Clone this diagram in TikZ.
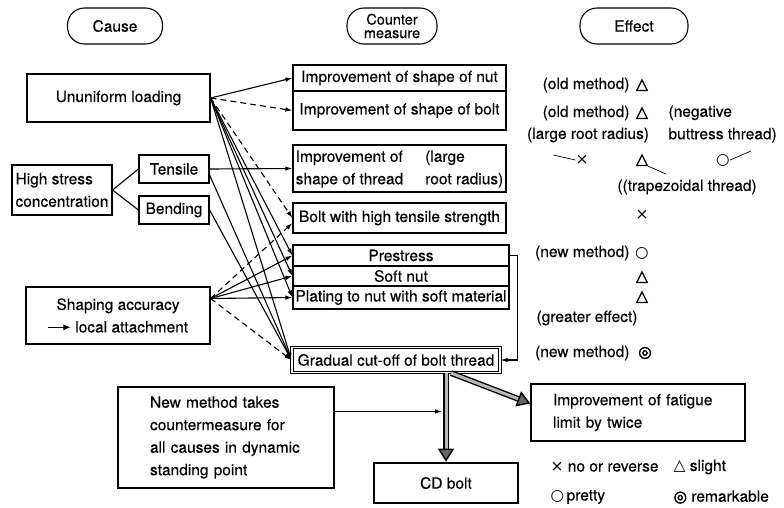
\documentclass[tikz,border=0pt]{standalone}
\usepackage{fontspec}
\setmainfont{TeX Gyre Heros}[FakeBold=0.3]
\newfontfamily\symf{DejaVu Sans}
\newfontfamily\symbf{DejaVu Sans}[FakeBold=2.5]
\usepackage{tikz}
\usetikzlibrary{arrows.meta}
\usetikzlibrary{calc}
\usetikzlibrary{positioning}

\newcommand\bodysize{\fontsize{15.5}{22.5}\selectfont}

\tikzset{
  head/.style={draw,line width=1.1pt,rounded corners=17pt,minimum height=36pt,align=center},
  causebox/.style={draw,line width=1.2pt,inner sep=2pt},
  cell/.style={draw,line width=1.2pt,minimum width=213pt,inner sep=1pt},
  conn/.style={line width=1.1pt,-{Latex[length=7pt,width=4.5pt]}},
  dconn/.style={conn,dash pattern=on 6pt off 4pt},
  bigarrow/.style={line width=1.4pt,double=gray!55,double distance=3pt,-{Triangle[length=13pt,width=16pt,fill=black!60]}},
  symb/.style={font=\bodysize\symf,inner sep=0pt},
  symbb/.style={font=\bodysize\symbf,inner sep=0pt},
  leader/.style={line width=0.7pt}
}

\begin{document}
\begin{tikzpicture}[x=1pt,y=-1pt,font=\bodysize]
\useasboundingbox (0,0) rectangle (784,507);

\node[head,minimum width=95pt] (cause) at (115,26) {Cause};
\node[head,minimum width=90pt,inner sep=1pt,font=\fontsize{14.5}{13.5}\selectfont] (counter) at (392,26) {Counter\\measure};
\node[head,minimum width=108pt] (effect) at (634,26) {Effect};

\node[causebox,minimum width=183pt,minimum height=48pt] (unif) at (118.5,98) {Ununiform loading};
\node[causebox,minimum width=100pt,minimum height=50pt,align=left] (stress) at (62,190) {High stress\\concentration};
\node[causebox,minimum width=70pt,minimum height=28pt] (tensile) at (174,169) {Tensile};
\node[causebox,minimum width=70pt,minimum height=28pt] (bending) at (174,210) {Bending};
\node[causebox,minimum width=184pt,minimum height=57pt,align=center] (shaping) at (118,315.5) {Shaping accuracy\\\tikz[baseline=0pt]\draw[line width=1.1pt,-{Latex[length=7pt,width=6pt]}] (0pt,0.33em) -- (22pt,0.33em);\ local attachment};

\node[cell,minimum height=26pt] (nut) at (399.5,78) {Improvement of shape of nut};
\node[cell,minimum height=39pt] (bolt) at (399.5,110.5) {Improvement of shape of bolt};
\node[cell,minimum height=47pt] (thread) at (399.5,168.5) {\begin{tabular}{@{}l@{\hspace{22pt}}l@{}}Improvement of&(large\\shape of thread&root radius)\end{tabular}};
\node[cell,minimum height=30pt] (tbolt) at (399.5,218) {Bolt with high tensile strength};
\node[cell,minimum width=216pt,minimum height=21pt] (prestress) at (401,255.5) {Prestress};
\node[cell,minimum width=216pt,minimum height=20pt] (softnut) at (401,276) {Soft nut};
\node[cell,minimum width=216pt,minimum height=23pt] (plating) at (401,297.5) {Plating to nut with soft material};
\node[causebox,double,double distance=1.5pt,line width=1.1pt,minimum width=208pt,minimum height=25pt] (gradual) at (396,360) {Gradual cut-off of bolt thread};

\node[causebox,minimum width=216pt,minimum height=101pt,text width=152pt,inner xsep=32pt,align=left] (newmethod) at (226,437.5) {New method takes\\countermeasure for\\all causes in dynamic\\standing point};
\node[causebox,line width=2.6pt,minimum width=144pt,minimum height=40pt] (cd) at (446,483) {CD bolt};
\node[causebox,line width=1.4pt,minimum width=214pt,minimum height=57pt,text width=170pt,inner xsep=22pt,align=left] (fatigue) at (638,412.5) {Improvement of fatigue\\limit by twice};

% causes -> countermeasures
\draw[line width=1.1pt] (stress.east) -- (tensile.west);
\draw[line width=1.1pt] (stress.east) -- (bending.west);
\draw[conn] (unif.east) -- (nut.west);
\draw[dconn] (unif.east) -- (bolt.west);
\draw[dconn] (unif.east) -- (tbolt.west);
\foreach \t in {prestress,softnut,plating,gradual}
  \draw[conn] (unif.east) -- (\t.west);
\draw[conn] (tensile.east) -- (thread.west);
\draw[conn] ([yshift=-6pt]tensile.east) -- (gradual.west);
\draw[conn] (bending.east) -- (gradual.west);
\coordinate (sa) at ([yshift=17pt]shaping.east);
\draw[dconn] (sa) -- ([yshift=-5pt]tbolt.west);
\foreach \t in {prestress,softnut,plating}
  \draw[conn] (sa) -- (\t.west);
\draw[dconn] (sa) -- (gradual.west);
\draw[conn] (prestress.east) -- ++(8,0) |- (gradual.east);

% result
\draw[bigarrow] (gradual.south -| cd.north) -- (cd.north);
\draw[bigarrow] ([xshift=55pt]gradual.south) -- ([yshift=9pt]fatigue.west);
\coordinate (join) at ([yshift=26pt]newmethod.east -| cd.north);
\draw[conn,shorten >=4pt] ([yshift=26pt]newmethod.east) -- (join);

% effect column
\node[anchor=east] (e1) at (633,85) {(old method)};
\node[symbb] (s1) at (642,85) {△};
\node[anchor=east] (e2) at (633,113) {(old method)};
\node[symbb] (s2) at (642,113) {△};
\node[anchor=west,align=left] (neg) at (665,124) {(negative\\buttress thread)};
\node (lrr) at (588,135) {(large root radius)};
\node[symb] (xa) at (582,160) {×};
\node[symbb] (ta) at (642,160) {△};
\node[symb] (ca) at (723,160) {○};
\draw[leader] (xa.west) -- ++(-22,-5);
\draw[leader] (ta.south east) -- ++(18,8);
\draw[leader] (ca.east) -- ++(21,-9);
\node (trap) at (687,187) {((trapezoidal thread)};
\node[symb] (s4) at (642,215) {×};
\node[anchor=east] (e5) at (633,253) {(new method)};
\node[symb] (s5) at (642,253) {○};
\node[symbb] (s6) at (642,277) {△};
\node[symbb] (s7) at (642,297) {△};
\node (greater) at (587,318) {(greater effect)};
\node[anchor=east] (e8) at (633,353) {(new method)};
\node[symbb] (s8) at (645,353) {◎};

% legend
\node[anchor=west] (l1) at (547,467) {{\symf ×} no or reverse};
\node[anchor=west] (l2) at (670,467) {{\symf △} slight};
\node[anchor=west] (l3) at (547,497) {{\symf ○}\,pretty};
\node[anchor=west] (l4) at (670,497) {{\symbf ◎} remarkable};
\end{tikzpicture}
\end{document}
